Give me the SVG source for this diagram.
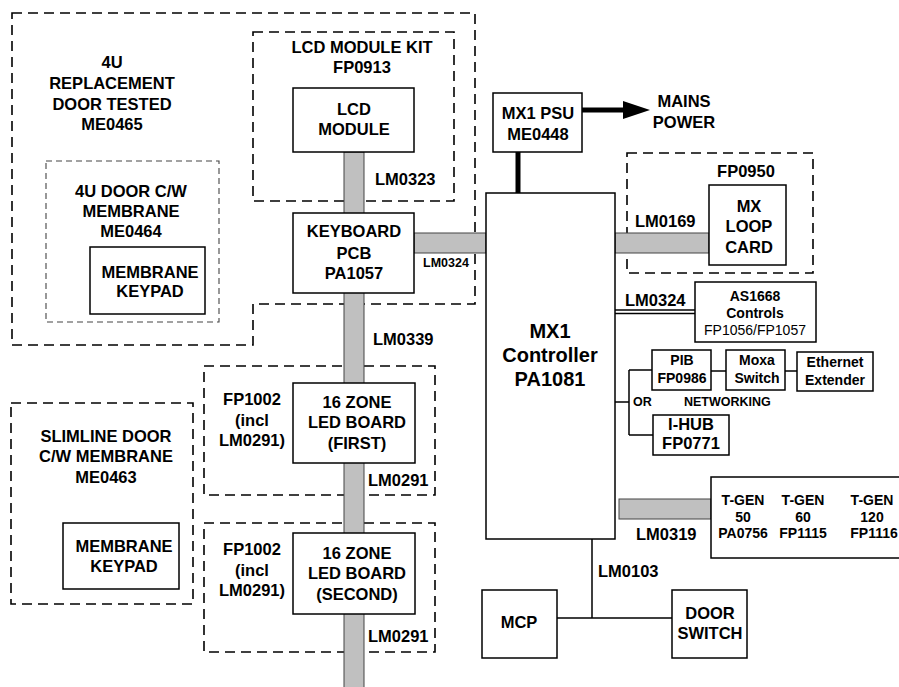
<svg xmlns="http://www.w3.org/2000/svg" width="899" height="687" viewBox="0 0 899 687">
<defs>
<style>
text{font-family:"Liberation Sans",Arial,sans-serif;font-weight:bold;font-size:16.5px;fill:#000;text-anchor:middle}
.st{text-anchor:start}
.s14{font-size:14px}
.s12{font-size:12.5px}
.nb{font-weight:normal}
.box{fill:#fff;stroke:#000;stroke-width:1.5}
.dash{fill:none;stroke:#000;stroke-width:1.6;stroke-dasharray:10 6}
.fine{fill:none;stroke:#444;stroke-width:1.1;stroke-dasharray:6 4}
.bar{fill:#c0c0c0;stroke:#444;stroke-width:1}
.wire{fill:none;stroke:#000;stroke-width:1.5}
.thick{fill:none;stroke:#000;stroke-width:5}
</style>
<marker id="arr" markerUnits="userSpaceOnUse" markerWidth="28" markerHeight="20" refX="2" refY="9" orient="auto">
<path d="M0,0 L27,9 L0,18 z" fill="#000"/>
</marker>
</defs>
<rect width="899" height="687" fill="#fff"/>

<g id="group-4u-door">
<path class="dash" d="M12,13 H475 V304 H253 V345 H12 Z"/>
<text x="112" y="68">4U</text>
<text x="112" y="89">REPLACEMENT</text>
<text x="112" y="110">DOOR TESTED</text>
<text x="112" y="130">ME0465</text>
</g>
<g id="group-4u-membrane">
<rect class="fine" x="46" y="161" width="173" height="161"/>
<text x="131" y="197">4U DOOR C/W</text>
<text x="131" y="217">MEMBRANE</text>
<text x="131" y="237">ME0464</text>
</g>
<g id="group-lcd-kit">
<rect class="dash" x="253" y="32" width="201" height="169"/>
<text x="362" y="53">LCD MODULE KIT</text>
<text x="362" y="73">FP0913</text>
</g>
<g id="group-fp0950">
<rect class="dash" x="627" y="153" width="186" height="120"/>
<text x="746" y="177">FP0950</text>
</g>
<g id="group-slimline">
<rect class="dash" x="11" y="403" width="182" height="201"/>
<text x="106" y="442">SLIMLINE DOOR</text>
<text x="106" y="462">C/W MEMBRANE</text>
<text x="106" y="483">ME0463</text>
</g>
<g id="group-fp1002-first">
<rect class="dash" x="204" y="366" width="231" height="129"/>
<text x="252" y="405">FP1002</text>
<text x="252" y="426">(incl</text>
<text x="252" y="446">LM0291)</text>
</g>
<g id="group-fp1002-second">
<rect class="dash" x="204" y="523" width="231" height="129"/>
<text x="252" y="555">FP1002</text>
<text x="252" y="576">(incl</text>
<text x="252" y="596">LM0291)</text>
</g>

<g id="connectors">
<rect class="bar" x="344" y="152" width="20" height="540"/>
<rect class="bar" x="414" y="233" width="72" height="20"/>
<rect class="bar" x="615" y="233" width="94" height="20"/>
<rect class="bar" x="619" y="499" width="92" height="20"/>
<line class="thick" x1="518" y1="152" x2="518" y2="193"/>
<line class="thick" x1="582" y1="110" x2="625" y2="110" marker-end="url(#arr)"/>
<line class="wire" x1="615" y1="310" x2="695" y2="310" stroke-width="1.2"/>
<line class="wire" x1="615" y1="313.5" x2="695" y2="313.5" stroke-width="1.2"/>
<path class="wire" d="M615,402 H629 M629,370 V435 M629,370 H652 M629,435 H653"/>
<path class="wire" d="M711,371 H726 M785,371 H797"/>
<path class="wire" d="M592,539 V618 M557,618 H672"/>
<text class="st" x="375" y="185">LM0323</text>
<text class="st s12" x="423" y="267">LM0324</text>
<text class="st" x="373" y="345">LM0339</text>
<text class="st" x="368" y="486">LM0291</text>
<text class="st" x="368" y="642">LM0291</text>
<text class="st" x="635" y="227">LM0169</text>
<text class="st" x="625" y="306">LM0324</text>
<text class="st s12" x="633" y="406">OR</text>
<text class="st s12" x="684" y="406">NETWORKING</text>
<text class="st" x="636" y="540">LM0319</text>
<text class="st" x="598" y="577">LM0103</text>
</g>

<g id="membrane-keypad-4u">
<rect class="box" x="90" y="247" width="115" height="67"/>
<text x="150" y="278">MEMBRANE</text>
<text x="150" y="297">KEYPAD</text>
</g>
<g id="lcd-module">
<rect class="box" x="293" y="88" width="121" height="64"/>
<text x="354" y="115">LCD</text>
<text x="354" y="135">MODULE</text>
</g>
<g id="keyboard-pcb">
<rect class="box" x="293" y="213" width="121" height="80"/>
<text x="354" y="237">KEYBOARD</text>
<text x="354" y="259">PCB</text>
<text x="354" y="279">PA1057</text>
</g>
<g id="led-board-first">
<rect class="box" x="293" y="383" width="122" height="80"/>
<text x="357" y="408">16 ZONE</text>
<text x="357" y="428">LED BOARD</text>
<text x="357" y="449">(FIRST)</text>
</g>
<g id="led-board-second">
<rect class="box" x="293" y="533" width="122" height="81"/>
<text x="357" y="559">16 ZONE</text>
<text x="357" y="579">LED BOARD</text>
<text x="357" y="600">(SECOND)</text>
</g>
<g id="membrane-keypad-slimline">
<rect class="box" x="63" y="523" width="116" height="66"/>
<text x="124" y="552">MEMBRANE</text>
<text x="124" y="572">KEYPAD</text>
</g>
<g id="mx1-psu">
<rect class="box" x="493" y="93" width="89" height="59"/>
<text x="538" y="119">MX1 PSU</text>
<text x="538" y="140">ME0448</text>
</g>
<g id="mains-power">
<text x="684" y="107">MAINS</text>
<text x="684" y="128">POWER</text>
</g>
<g id="mx1-controller">
<rect class="box" x="486" y="193" width="129" height="346"/>
<text x="550" y="338" style="font-size:20px">MX1</text>
<text x="550" y="362" style="font-size:20px">Controller</text>
<text x="550" y="386" style="font-size:20px">PA1081</text>
</g>
<g id="mx-loop-card">
<rect class="box" x="709" y="185" width="77" height="80"/>
<text x="749" y="212">MX</text>
<text x="749" y="232">LOOP</text>
<text x="749" y="253">CARD</text>
</g>
<g id="as1668-controls">
<rect class="box" x="695" y="282" width="121" height="60"/>
<text class="s14" x="755" y="301">AS1668</text>
<text class="s14" x="755" y="318">Controls</text>
<text class="s14 nb" x="755" y="335">FP1056/FP1057</text>
</g>
<g id="pib">
<rect class="box" x="652" y="350" width="59" height="40"/>
<text class="s14" x="682" y="365">PIB</text>
<text class="s14" x="682" y="383">FP0986</text>
</g>
<g id="moxa-switch">
<rect class="box" x="726" y="350" width="59" height="40"/>
<text class="s14" x="757" y="365">Moxa</text>
<text class="s14" x="757" y="383">Switch</text>
</g>
<g id="ethernet-extender">
<rect class="box" x="797" y="352" width="76" height="39"/>
<text class="s14" x="835" y="367">Ethernet</text>
<text class="s14" x="835" y="385">Extender</text>
</g>
<g id="i-hub">
<rect class="box" x="653" y="415" width="76" height="40"/>
<text x="691" y="430">I-HUB</text>
<text x="691" y="449">FP0771</text>
</g>
<g id="t-gen">
<rect class="box" x="711" y="477" width="200" height="81"/>
<text class="s14" x="743" y="505">T-GEN</text>
<text class="s14" x="743" y="522">50</text>
<text class="s14" x="743" y="538">PA0756</text>
<text class="s14" x="803" y="505">T-GEN</text>
<text class="s14" x="803" y="522">60</text>
<text class="s14" x="803" y="538">FP1115</text>
<text class="s14" x="872" y="505">T-GEN</text>
<text class="s14" x="872" y="522">120</text>
<text class="s14" x="874" y="538">FP1116</text>
</g>
<g id="mcp">
<rect class="box" x="482" y="590" width="75" height="68"/>
<text x="519" y="628">MCP</text>
</g>
<g id="door-switch">
<rect class="box" x="672" y="590" width="75" height="68"/>
<text x="710" y="619">DOOR</text>
<text x="710" y="639">SWITCH</text>
</g>
</svg>
